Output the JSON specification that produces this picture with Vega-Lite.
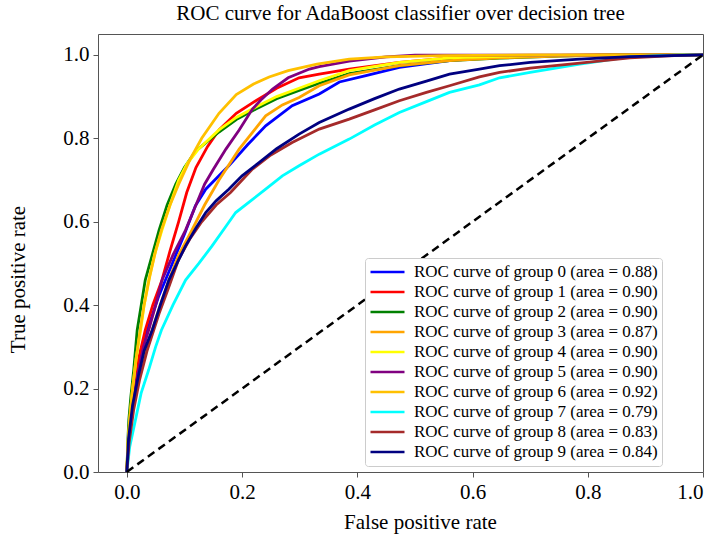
{
  "$schema": "https://vega.github.io/schema/vega-lite/v6.json",
  "width": 605,
  "height": 438,
  "autosize": "none",
  "padding": {"top": 34, "left": 98, "right": 13, "bottom": 63},
  "title": {"text": "ROC curve for AdaBoost classifier over decision tree", "font": "Liberation Serif", "fontSize": 21, "fontWeight": "normal", "color": "black", "offset": 10},
  "datasets": {
    "groups": [
      {"g": 0, "name": "ROC curve of group 0 (area = 0.88)"},
      {"g": 1, "name": "ROC curve of group 1 (area = 0.90)"},
      {"g": 2, "name": "ROC curve of group 2 (area = 0.90)"},
      {"g": 3, "name": "ROC curve of group 3 (area = 0.87)"},
      {"g": 4, "name": "ROC curve of group 4 (area = 0.90)"},
      {"g": 5, "name": "ROC curve of group 5 (area = 0.90)"},
      {"g": 6, "name": "ROC curve of group 6 (area = 0.92)"},
      {"g": 7, "name": "ROC curve of group 7 (area = 0.79)"},
      {"g": 8, "name": "ROC curve of group 8 (area = 0.83)"},
      {"g": 9, "name": "ROC curve of group 9 (area = 0.84)"}
    ],
    "curves": [
      {"g":0,"x":0,"y":0},{"g":0,"x":0.003,"y":0.08},{"g":0,"x":0.008,"y":0.15},{"g":0,"x":0.015,"y":0.22},{"g":0,"x":0.025,"y":0.29},{"g":0,"x":0.038,"y":0.35},{"g":0,"x":0.055,"y":0.42},{"g":0,"x":0.079,"y":0.5},{"g":0,"x":0.1,"y":0.57},{"g":0,"x":0.119,"y":0.638},{"g":0,"x":0.137,"y":0.678},{"g":0,"x":0.177,"y":0.734},{"g":0,"x":0.21,"y":0.785},{"g":0,"x":0.241,"y":0.83},{"g":0,"x":0.287,"y":0.878},{"g":0,"x":0.334,"y":0.906},{"g":0,"x":0.369,"y":0.935},{"g":0,"x":0.415,"y":0.95},{"g":0,"x":0.473,"y":0.97},{"g":0,"x":0.56,"y":0.986},{"g":0,"x":0.647,"y":0.995},{"g":0,"x":0.75,"y":0.998},{"g":0,"x":0.85,"y":1},{"g":0,"x":1,"y":1},
      {"g":1,"x":0,"y":0},{"g":1,"x":0.003,"y":0.09},{"g":1,"x":0.008,"y":0.17},{"g":1,"x":0.015,"y":0.24},{"g":1,"x":0.032,"y":0.34},{"g":1,"x":0.045,"y":0.4},{"g":1,"x":0.061,"y":0.46},{"g":1,"x":0.075,"y":0.53},{"g":1,"x":0.09,"y":0.6},{"g":1,"x":0.104,"y":0.67},{"g":1,"x":0.12,"y":0.73},{"g":1,"x":0.14,"y":0.78},{"g":1,"x":0.16,"y":0.82},{"g":1,"x":0.19,"y":0.86},{"g":1,"x":0.224,"y":0.89},{"g":1,"x":0.26,"y":0.92},{"g":1,"x":0.299,"y":0.945},{"g":1,"x":0.334,"y":0.954},{"g":1,"x":0.386,"y":0.966},{"g":1,"x":0.473,"y":0.982},{"g":1,"x":0.56,"y":0.993},{"g":1,"x":0.7,"y":0.998},{"g":1,"x":0.85,"y":1},{"g":1,"x":1,"y":1},
      {"g":2,"x":0,"y":0},{"g":2,"x":0.002,"y":0.08},{"g":2,"x":0.0035,"y":0.125},{"g":2,"x":0.007,"y":0.18},{"g":2,"x":0.012,"y":0.245},{"g":2,"x":0.018,"y":0.34},{"g":2,"x":0.025,"y":0.4},{"g":2,"x":0.032,"y":0.46},{"g":2,"x":0.044,"y":0.52},{"g":2,"x":0.056,"y":0.58},{"g":2,"x":0.07,"y":0.64},{"g":2,"x":0.085,"y":0.69},{"g":2,"x":0.1,"y":0.73},{"g":2,"x":0.12,"y":0.77},{"g":2,"x":0.16,"y":0.815},{"g":2,"x":0.19,"y":0.845},{"g":2,"x":0.224,"y":0.87},{"g":2,"x":0.26,"y":0.895},{"g":2,"x":0.299,"y":0.915},{"g":2,"x":0.334,"y":0.932},{"g":2,"x":0.386,"y":0.955},{"g":2,"x":0.473,"y":0.974},{"g":2,"x":0.56,"y":0.986},{"g":2,"x":0.647,"y":0.992},{"g":2,"x":0.75,"y":0.997},{"g":2,"x":0.85,"y":1},{"g":2,"x":1,"y":1},
      {"g":3,"x":0,"y":0},{"g":3,"x":0.004,"y":0.08},{"g":3,"x":0.01,"y":0.15},{"g":3,"x":0.02,"y":0.23},{"g":3,"x":0.032,"y":0.29},{"g":3,"x":0.044,"y":0.34},{"g":3,"x":0.058,"y":0.4},{"g":3,"x":0.073,"y":0.46},{"g":3,"x":0.09,"y":0.52},{"g":3,"x":0.113,"y":0.58},{"g":3,"x":0.135,"y":0.64},{"g":3,"x":0.16,"y":0.7},{"g":3,"x":0.195,"y":0.774},{"g":3,"x":0.241,"y":0.854},{"g":3,"x":0.27,"y":0.88},{"g":3,"x":0.299,"y":0.898},{"g":3,"x":0.334,"y":0.926},{"g":3,"x":0.386,"y":0.952},{"g":3,"x":0.473,"y":0.974},{"g":3,"x":0.56,"y":0.986},{"g":3,"x":0.647,"y":0.993},{"g":3,"x":0.75,"y":0.997},{"g":3,"x":0.85,"y":1},{"g":3,"x":1,"y":1},
      {"g":4,"x":0,"y":0},{"g":4,"x":0.002,"y":0.07},{"g":4,"x":0.005,"y":0.12},{"g":4,"x":0.01,"y":0.2},{"g":4,"x":0.016,"y":0.27},{"g":4,"x":0.024,"y":0.34},{"g":4,"x":0.03,"y":0.4},{"g":4,"x":0.038,"y":0.46},{"g":4,"x":0.048,"y":0.52},{"g":4,"x":0.061,"y":0.58},{"g":4,"x":0.075,"y":0.64},{"g":4,"x":0.09,"y":0.7},{"g":4,"x":0.105,"y":0.74},{"g":4,"x":0.125,"y":0.775},{"g":4,"x":0.16,"y":0.82},{"g":4,"x":0.19,"y":0.85},{"g":4,"x":0.224,"y":0.875},{"g":4,"x":0.26,"y":0.9},{"g":4,"x":0.299,"y":0.92},{"g":4,"x":0.334,"y":0.938},{"g":4,"x":0.386,"y":0.962},{"g":4,"x":0.473,"y":0.982},{"g":4,"x":0.56,"y":0.993},{"g":4,"x":0.7,"y":0.998},{"g":4,"x":0.85,"y":1},{"g":4,"x":1,"y":1},
      {"g":5,"x":0,"y":0},{"g":5,"x":0.004,"y":0.08},{"g":5,"x":0.01,"y":0.16},{"g":5,"x":0.02,"y":0.24},{"g":5,"x":0.029,"y":0.3},{"g":5,"x":0.038,"y":0.34},{"g":5,"x":0.05,"y":0.4},{"g":5,"x":0.061,"y":0.46},{"g":5,"x":0.08,"y":0.52},{"g":5,"x":0.102,"y":0.58},{"g":5,"x":0.12,"y":0.64},{"g":5,"x":0.135,"y":0.69},{"g":5,"x":0.15,"y":0.725},{"g":5,"x":0.172,"y":0.774},{"g":5,"x":0.195,"y":0.82},{"g":5,"x":0.218,"y":0.87},{"g":5,"x":0.235,"y":0.895},{"g":5,"x":0.253,"y":0.918},{"g":5,"x":0.28,"y":0.945},{"g":5,"x":0.317,"y":0.966},{"g":5,"x":0.334,"y":0.972},{"g":5,"x":0.386,"y":0.985},{"g":5,"x":0.45,"y":0.995},{"g":5,"x":0.5,"y":0.999},{"g":5,"x":1,"y":1},
      {"g":6,"x":0,"y":0},{"g":6,"x":0.002,"y":0.07},{"g":6,"x":0.005,"y":0.13},{"g":6,"x":0.01,"y":0.2},{"g":6,"x":0.016,"y":0.27},{"g":6,"x":0.022,"y":0.33},{"g":6,"x":0.03,"y":0.4},{"g":6,"x":0.04,"y":0.47},{"g":6,"x":0.05,"y":0.53},{"g":6,"x":0.06,"y":0.58},{"g":6,"x":0.075,"y":0.64},{"g":6,"x":0.09,"y":0.69},{"g":6,"x":0.11,"y":0.75},{"g":6,"x":0.13,"y":0.8},{"g":6,"x":0.16,"y":0.86},{"g":6,"x":0.19,"y":0.905},{"g":6,"x":0.22,"y":0.93},{"g":6,"x":0.247,"y":0.947},{"g":6,"x":0.28,"y":0.962},{"g":6,"x":0.33,"y":0.978},{"g":6,"x":0.386,"y":0.99},{"g":6,"x":0.45,"y":0.995},{"g":6,"x":0.55,"y":0.998},{"g":6,"x":0.7,"y":1},{"g":6,"x":1,"y":1},
      {"g":7,"x":0,"y":0},{"g":7,"x":0.005,"y":0.06},{"g":7,"x":0.015,"y":0.125},{"g":7,"x":0.025,"y":0.19},{"g":7,"x":0.038,"y":0.245},{"g":7,"x":0.05,"y":0.3},{"g":7,"x":0.06,"y":0.34},{"g":7,"x":0.08,"y":0.4},{"g":7,"x":0.102,"y":0.46},{"g":7,"x":0.125,"y":0.5},{"g":7,"x":0.148,"y":0.542},{"g":7,"x":0.17,"y":0.585},{"g":7,"x":0.189,"y":0.622},{"g":7,"x":0.215,"y":0.65},{"g":7,"x":0.241,"y":0.678},{"g":7,"x":0.27,"y":0.71},{"g":7,"x":0.299,"y":0.734},{"g":7,"x":0.334,"y":0.762},{"g":7,"x":0.386,"y":0.798},{"g":7,"x":0.43,"y":0.832},{"g":7,"x":0.473,"y":0.862},{"g":7,"x":0.52,"y":0.888},{"g":7,"x":0.56,"y":0.91},{"g":7,"x":0.612,"y":0.928},{"g":7,"x":0.647,"y":0.945},{"g":7,"x":0.7,"y":0.958},{"g":7,"x":0.786,"y":0.978},{"g":7,"x":0.873,"y":0.995},{"g":7,"x":0.95,"y":0.999},{"g":7,"x":1,"y":1},
      {"g":8,"x":0,"y":0},{"g":8,"x":0.004,"y":0.07},{"g":8,"x":0.012,"y":0.15},{"g":8,"x":0.022,"y":0.22},{"g":8,"x":0.035,"y":0.29},{"g":8,"x":0.056,"y":0.38},{"g":8,"x":0.072,"y":0.44},{"g":8,"x":0.09,"y":0.51},{"g":8,"x":0.11,"y":0.56},{"g":8,"x":0.13,"y":0.6},{"g":8,"x":0.155,"y":0.64},{"g":8,"x":0.18,"y":0.67},{"g":8,"x":0.218,"y":0.726},{"g":8,"x":0.25,"y":0.76},{"g":8,"x":0.287,"y":0.79},{"g":8,"x":0.334,"y":0.822},{"g":8,"x":0.386,"y":0.846},{"g":8,"x":0.43,"y":0.868},{"g":8,"x":0.473,"y":0.89},{"g":8,"x":0.52,"y":0.91},{"g":8,"x":0.56,"y":0.926},{"g":8,"x":0.612,"y":0.947},{"g":8,"x":0.647,"y":0.958},{"g":8,"x":0.7,"y":0.968},{"g":8,"x":0.786,"y":0.98},{"g":8,"x":0.873,"y":0.993},{"g":8,"x":0.95,"y":0.998},{"g":8,"x":1,"y":1},
      {"g":9,"x":0,"y":0},{"g":9,"x":0.003,"y":0.08},{"g":9,"x":0.01,"y":0.16},{"g":9,"x":0.02,"y":0.23},{"g":9,"x":0.03,"y":0.29},{"g":9,"x":0.044,"y":0.34},{"g":9,"x":0.058,"y":0.4},{"g":9,"x":0.073,"y":0.46},{"g":9,"x":0.087,"y":0.5},{"g":9,"x":0.102,"y":0.542},{"g":9,"x":0.12,"y":0.585},{"g":9,"x":0.137,"y":0.622},{"g":9,"x":0.155,"y":0.65},{"g":9,"x":0.177,"y":0.678},{"g":9,"x":0.2,"y":0.71},{"g":9,"x":0.23,"y":0.742},{"g":9,"x":0.26,"y":0.775},{"g":9,"x":0.299,"y":0.81},{"g":9,"x":0.334,"y":0.838},{"g":9,"x":0.386,"y":0.87},{"g":9,"x":0.43,"y":0.895},{"g":9,"x":0.473,"y":0.918},{"g":9,"x":0.52,"y":0.937},{"g":9,"x":0.56,"y":0.954},{"g":9,"x":0.612,"y":0.966},{"g":9,"x":0.647,"y":0.974},{"g":9,"x":0.7,"y":0.982},{"g":9,"x":0.786,"y":0.99},{"g":9,"x":0.873,"y":0.996},{"g":9,"x":1,"y":1}
    ],
    "diag": [{"x": 0, "y": 0}, {"x": 1, "y": 1}]
  },
  "layer": [
    {
      "data": {"name": "curves"},
      "transform": [{"lookup": "g", "from": {"data": {"name": "groups"}, "key": "g", "fields": ["name"]}}],
      "mark": {"type": "line", "strokeWidth": 2.8, "clip": true},
      "encoding": {
        "x": {"field": "x", "type": "quantitative", "scale": {"domain": [-0.05, 1.0], "nice": false, "zero": false},
          "axis": {"values": [0, 0.2, 0.4, 0.6, 0.8, 1.0], "format": ".1f", "title": "False positive rate", "titleX": 322, "titleY": 56, "titleAlign": "center", "titleBaseline": "alphabetic"}},
        "y": {"field": "y", "type": "quantitative", "scale": {"domain": [0, 1.05], "nice": false},
          "axis": {"values": [0, 0.2, 0.4, 0.6, 0.8, 1.0], "format": ".1f", "title": "True positive rate", "titleX": -80, "titleY": 245, "titleAngle": -90, "titleAlign": "center", "titleBaseline": "middle"}},
        "color": {"field": "name", "type": "nominal",
          "scale": {"domain": [
            "ROC curve of group 0 (area = 0.88)",
            "ROC curve of group 1 (area = 0.90)",
            "ROC curve of group 2 (area = 0.90)",
            "ROC curve of group 3 (area = 0.87)",
            "ROC curve of group 4 (area = 0.90)",
            "ROC curve of group 5 (area = 0.90)",
            "ROC curve of group 6 (area = 0.92)",
            "ROC curve of group 7 (area = 0.79)",
            "ROC curve of group 8 (area = 0.83)",
            "ROC curve of group 9 (area = 0.84)"],
            "range": ["#0000FF", "#FF0000", "#008000", "#FFA500", "#FFFF00", "#800080", "#FFC000", "#00FFFF", "#A52A2A", "#000080"]},
          "legend": {"title": null, "orient": "none", "legendX": 267, "legendY": 224, "symbolType": "stroke", "symbolSize": 1156, "symbolStrokeWidth": 2.5, "clipHeight": 20, "rowPadding": 0, "labelOffset": 8, "labelFont": "Liberation Serif", "labelFontSize": 17, "labelColor": "black", "padding": 4, "fillColor": "white", "strokeColor": "#cccccc", "cornerRadius": 3, "labelLimit": 400}},
        "order": {"field": "g", "type": "quantitative"}
      }
    },
    {
      "data": {"name": "diag"},
      "mark": {"type": "line", "color": "black", "strokeWidth": 2.5, "strokeDash": [8, 5]},
      "encoding": {
        "x": {"field": "x", "type": "quantitative"},
        "y": {"field": "y", "type": "quantitative"}
      }
    }
  ],
  "config": {
    "font": "Liberation Serif",
    "view": {"stroke": "#555555", "strokeWidth": 1},
    "axis": {"grid": false, "domain": false, "tickColor": "#555555", "tickSize": 5, "labelFont": "Liberation Serif", "labelFontSize": 21, "labelColor": "black", "labelPadding": 4, "titleFont": "Liberation Serif", "titleFontSize": 21, "titleFontWeight": "normal", "titleColor": "black"}
  }
}
